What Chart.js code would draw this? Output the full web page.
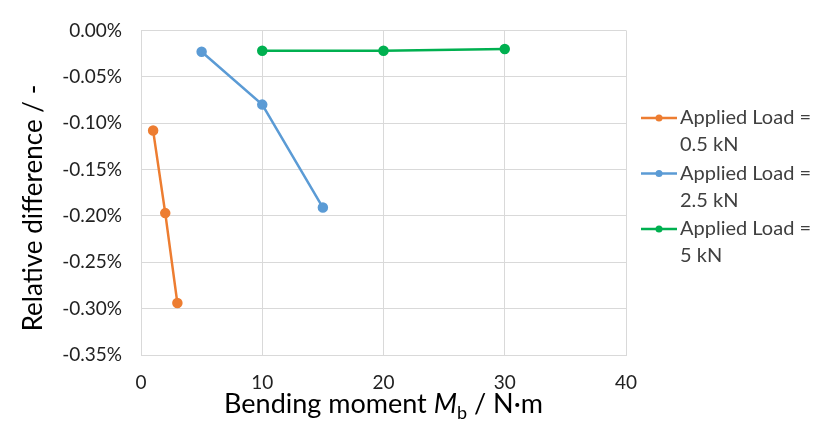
<!DOCTYPE html>
<html>
<head>
<meta charset="utf-8">
<script src="https://cdn.jsdelivr.net/npm/chart.js@4"></script>
<style>
  html, body { margin: 0; padding: 0; background: #fff; }
  #wrap { width: 816px; height: 429px; position: relative; }
</style>
</head>
<body>
<div id="wrap"><canvas id="lineChart" width="816" height="429"></canvas></div>
<script>
// values (relative difference in %)
const momentLoad05 = [1, 2, 3];
const diffLoad05 = [-0.108, -0.197, -0.294];
const momentLoad25 = [5, 10, 15];
const diffLoad25 = [-0.023, -0.080, -0.191];
const momentLoad5 = [10, 20, 30];
const diffLoad5 = [-0.022, -0.022, -0.020];

const seriesNames = [['Applied Load =', '0.5 kN'], ['Applied Load =', '2.5 kN'], ['Applied Load =', '5 kN']];
const seriesColors = ['#ED7D31', '#5B9BD5', '#00B050'];
const yTitleText = 'Relative difference / -';

const fontFamily = 'Lato, "Open Sans", sans-serif';

function toPoints(xs, ys)
{
    return xs.map(function(x, i) { return {x: x, y: ys[i]}; });
}

function makeDataset(idx, xs, ys)
{
    return {
        label: seriesNames[idx].join(' '),
        data: toPoints(xs, ys),
        showLine: true,
        borderColor: seriesColors[idx],
        backgroundColor: seriesColors[idx],
        borderWidth: 2.5,
        pointRadius: 4,
        pointHoverRadius: 4,
    };
}

// legend on the right, two lines per entry
const sideLegend = {
    id: 'sideLegend',
    afterDraw(chart) {
        const ctx = chart.ctx;
        ctx.save();
        ctx.font = '20px ' + fontFamily;
        ctx.textBaseline = 'middle';
        for (let i = 0; i < seriesNames.length; i++) {
            const y = 118 + i * 55.5;
            ctx.strokeStyle = seriesColors[i];
            ctx.lineWidth = 2.5;
            ctx.beginPath();
            ctx.moveTo(641, y);
            ctx.lineTo(677, y);
            ctx.stroke();
            ctx.fillStyle = seriesColors[i];
            ctx.beginPath();
            ctx.arc(659, y, 3.5, 0, Math.PI * 2);
            ctx.fill();
            ctx.fillStyle = '#404040';
            ctx.textAlign = 'left';
            ctx.fillText(seriesNames[i][0], 680, y);
            ctx.fillText(seriesNames[i][1], 680, y + 27);
        }
        ctx.restore();
    }
};

// axis titles: x with italic M and subscript b, y rotated
const axisTitles = {
    id: 'axisTitles',
    afterDraw(chart) {
        const ctx = chart.ctx;
        const area = chart.chartArea;
        const parts = [
            {t: 'Bending moment ', f: '27px ' + fontFamily, dy: 0},
            {t: 'M', f: 'italic 27px ' + fontFamily, dy: 0},
            {t: 'b', f: '18px ' + fontFamily, dy: 6},
            {t: ' / N\u00b7m', f: '27px ' + fontFamily, dy: 0},
        ];
        ctx.save();
        ctx.fillStyle = '#000';
        ctx.textBaseline = 'alphabetic';
        ctx.textAlign = 'left';
        let total = 0;
        parts.forEach(function(p) { ctx.font = p.f; total += ctx.measureText(p.t).width; });
        let x = (area.left + area.right) / 2 - total / 2;
        const y = 413;
        parts.forEach(function(p) {
            ctx.font = p.f;
            ctx.fillText(p.t, x, y + p.dy);
            x += ctx.measureText(p.t).width;
        });

        ctx.translate(42, 208);
        ctx.rotate(-Math.PI / 2);
        ctx.font = '26px ' + fontFamily;
        ctx.textAlign = 'center';
        ctx.fillText(yTitleText, 0, 0);
        ctx.restore();
    }
};

const chartEl = document.getElementById('lineChart');
new Chart(chartEl, {
    type: 'scatter',
    data: {
        datasets: [
            makeDataset(0, momentLoad05, diffLoad05),
            makeDataset(1, momentLoad25, diffLoad25),
            makeDataset(2, momentLoad5, diffLoad5),
        ]
    },
    options: {
        responsive: false,
        animation: false,
        layout: { padding: { top: 22, right: 190, left: 0, bottom: 0 } },
        plugins: {
            legend: { display: false },
            tooltip: { enabled: false },
        },
        scales: {
            x: {
                type: 'linear',
                min: 0,
                max: 40,
                ticks: {
                    stepSize: 10,
                    color: '#222',
                    font: { family: fontFamily, size: 19 },
                    padding: 16,
                },
                grid: { color: '#d9d9d9', drawTicks: false },
                border: { color: '#d9d9d9' },
                afterFit(scale) { scale.height = 74; },
            },
            y: {
                type: 'linear',
                min: -0.35,
                max: 0,
                ticks: {
                    stepSize: 0.05,
                    color: '#222',
                    font: { family: fontFamily, size: 19 },
                    padding: 19,
                    callback: function(v) {
                        if (Math.abs(v) < 1e-9) return '0.00%';
                        return v.toFixed(2) + '%';
                    }
                },
                grid: { color: '#d9d9d9', drawTicks: false },
                border: { color: '#d9d9d9' },
                afterFit(scale) { scale.width = 141; },
            }
        }
    },
    plugins: [sideLegend, axisTitles]
});
</script>
</body>
</html>
